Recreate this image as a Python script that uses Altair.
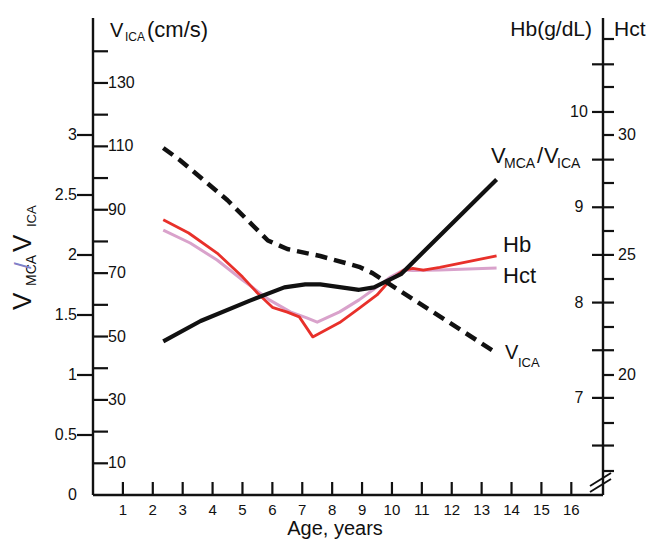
import altair as alt
import pandas as pd

FONT = "Liberation Sans"
INK = "#111111"

# ---------------- data ----------------
vica_age = [2.35, 2.9, 4.5, 5.85, 6.5, 7.6, 8.9, 9.35, 13.5]
vica_val = [109.5, 105.7, 93.0, 80.3, 77.6, 75.4, 72.0, 70.0, 44.8]

ratio_age = [2.35, 3.6, 5.25, 6.4, 7.1, 7.6, 8.9, 9.4, 10.3, 13.5]
ratio_val = [1.28, 1.45, 1.62, 1.73, 1.755, 1.755, 1.71, 1.73, 1.84, 2.63]

hb_age = [2.35, 3.2, 4.15, 5.0, 5.5, 6.0, 6.5, 6.9, 7.35, 8.25, 8.9, 9.5, 9.95, 10.4, 10.7, 11.05, 11.6, 13.5]
hb_val = [8.87, 8.73, 8.52, 8.27, 8.10, 7.95, 7.90, 7.85, 7.64, 7.79, 7.94, 8.08, 8.24, 8.34, 8.36, 8.34, 8.37, 8.49]

hct_age = [2.35, 3.25, 4.15, 5.0, 5.9, 6.6, 7.15, 7.5, 8.25, 8.9, 9.5, 9.95, 10.4, 10.7, 11.6, 13.5]
hct_val = [26.04, 25.5, 24.79, 23.96, 23.13, 22.63, 22.38, 22.2, 22.63, 23.13, 23.67, 24.08, 24.38, 24.35, 24.38, 24.46]

age_ticks = list(range(1, 17))
vica_ticks = list(range(10, 150, 10))
vica_labels = [10, 30, 50, 70, 90, 110, 130]
ratio_ticks = [0.5, 1.0, 1.5, 2.0, 2.5, 3.0]
ratio_label_vals = [0, 0.5, 1, 1.5, 2, 2.5, 3]
ratio_label_text = ["0", "0.5", "1", "1.5", "2", "2.5", "3"]
hb_ticks = [6.5, 7.0, 7.5, 8.0, 8.5, 9.0, 9.5, 10.0, 10.5]
hb_labels = [7, 8, 9, 10]
hct_ticks = [16, 18, 20, 22, 24, 26, 28, 30, 32, 34]
hct_labels = [20, 25, 30]

# ---------------- scales ----------------
W, H = 510, 477
X = alt.Scale(domain=[0, 17.06], nice=False, zero=False)
D_RATIO = [0, 3.975]
D_VICA = [0, 150.5]
D_HB = [5.981, 10.986]
D_HCT = [15, 34.875]


def ysc(d):
    return alt.Scale(domain=d, nice=False, zero=False)


def one():
    return pd.DataFrame({"a": [0]})


def series(age, val, dom, color, width, dash=None):
    kw = dict(color=color, strokeWidth=width, strokeJoin="round")
    if dash:
        kw["strokeDash"] = dash
    return alt.Chart(pd.DataFrame({"age": age, "val": val})).mark_line(**kw).encode(
        x=alt.X("age:Q", scale=X, axis=None),
        y=alt.Y("val:Q", scale=ysc(dom), axis=None),
    )


def yticks(vals, dom, x0, x1):
    return alt.Chart(pd.DataFrame({"v": vals})).mark_rule(color=INK, strokeWidth=2.2).encode(
        y=alt.Y("v:Q", scale=ysc(dom), axis=None), x=alt.value(x0), x2=alt.value(x1)
    )


def ylabels(vals, texts, dom, x, align):
    return alt.Chart(pd.DataFrame({"v": vals, "t": texts})).mark_text(
        align=align, baseline="middle", font=FONT, fontSize=16, color=INK
    ).encode(y=alt.Y("v:Q", scale=ysc(dom), axis=None), x=alt.value(x), text="t:N")


def rule(x, y, x2=None, y2=None, w=2.4):
    enc = dict(x=alt.value(x), y=alt.value(y))
    if x2 is not None:
        enc["x2"] = alt.value(x2)
    if y2 is not None:
        enc["y2"] = alt.value(y2)
    return alt.Chart(one()).mark_rule(color=INK, strokeWidth=w).encode(**enc)


def note(text, x, y, size, angle=0, color=INK, align="left"):
    kw = dict(align=align, baseline="alphabetic", font=FONT, fontSize=size, color=color)
    if angle:
        kw["angle"] = angle
    return alt.Chart(pd.DataFrame({"t": [text]})).mark_text(**kw).encode(
        x=alt.value(x), y=alt.value(y), text="t:N"
    )


layers = [
    # axis lines
    rule(0, 0, y2=H),
    rule(0, H, x2=W),
    rule(W, 0, y2=H),
    # axis break
    rule(497, 474, x2=518, y2=461, w=2),
    rule(497, 468, x2=518, y2=455, w=2),
    # x ticks and labels
    alt.Chart(pd.DataFrame({"age": age_ticks})).mark_rule(color=INK, strokeWidth=2.2).encode(
        x=alt.X("age:Q", scale=X, axis=None), y=alt.value(464), y2=alt.value(H)
    ),
    alt.Chart(pd.DataFrame({"age": age_ticks, "t": [str(a) for a in age_ticks]})).mark_text(
        baseline="middle", font=FONT, fontSize=15, color=INK
    ).encode(x=alt.X("age:Q", scale=X, axis=None), y=alt.value(492), text="t:N"),
    # left axis: V_ICA (inside) and ratio (outside)
    yticks(vica_ticks, D_VICA, 0, 15),
    ylabels(vica_labels, [str(v) for v in vica_labels], D_VICA, 15, "left"),
    yticks(ratio_ticks, D_RATIO, -16, 0),
    ylabels(ratio_label_vals, ratio_label_text, D_RATIO, -16, "right"),
    # right axis: Hb (both sides) and Hct (outside)
    yticks(hb_ticks, D_HB, 499, 521),
    ylabels(hb_labels, [str(v) for v in hb_labels], D_HB, 486, "center"),
    yticks(hct_ticks, D_HCT, W, 521),
    ylabels(hct_labels, [str(v) for v in hct_labels], D_HCT, 525, "left"),
    # data series
    series(hct_age, hct_val, D_HCT, "#d9a2cb", 3),
    series(hb_age, hb_val, D_HB, "#e8302a", 2.8),
    series(vica_age, vica_val, D_VICA, INK, 4.5, dash=[12, 7]),
    series(ratio_age, ratio_val, D_RATIO, INK, 4.2),
    # axis titles
    note("V", 17, 19, 20),
    note("ICA", 32, 23, 12),
    note("(cm/s)", 54, 19, 22),
    note("Hb(g/dL)", 499, 18, 21, align="right"),
    note("Hct", 521, 18, 21),
    note("Age, years", 242, 517, 20, align="center"),
    # rotated left title
    note("V", -62, 292, 26, angle=270),
    note("MCA", -57, 268, 14, angle=270),
    note("/", -62, 251, 24, angle=270, color="#7f80c8"),
    note("V", -62, 234, 26, angle=270),
    note("ICA", -57, 209, 13, angle=270),
    # series labels
    note("V", 398, 145, 22),
    note("MCA", 411, 150, 14),
    note("/", 444, 145, 22),
    note("V", 451, 145, 22),
    note("ICA", 464, 150, 14),
    note("Hb", 410, 234, 22),
    note("Hct", 410, 265, 22),
    note("V", 412, 341, 20),
    note("ICA", 425, 349, 13),
]

chart = (
    alt.layer(*layers)
    .resolve_scale(y="independent")
    .properties(
        width=W,
        height=H,
        autosize=alt.AutoSizeParams(type="none"),
        padding={"left": 85, "top": 10, "right": 44, "bottom": 45},
        background="white",
    )
    .configure_view(stroke=None)
)

chart.save("out.html", embed_options={"renderer": "svg", "actions": False})
